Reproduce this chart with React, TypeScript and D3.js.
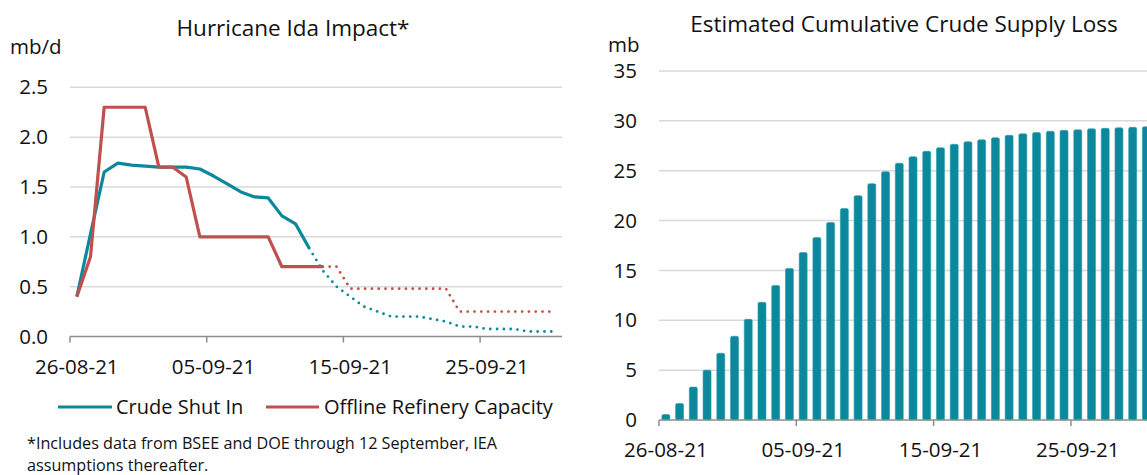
import React from "react";
import * as d3 from "d3";

const categories: string[] = d3.utcDay
  .range(new Date(Date.UTC(2021, 7, 26)), new Date(Date.UTC(2021, 9, 1)))
  .map((d) => d3.utcFormat("%d-%m-%y")(d));

const crudeShutIn = [0.4, 1.03, 1.65, 1.74, 1.72, 1.71, 1.7, 1.7, 1.7, 1.68, 1.61, 1.53, 1.45, 1.4, 1.39, 1.21, 1.13, 0.885];
const crudeShutInProj = [0.885, 0.66, 0.5, 0.4, 0.3, 0.25, 0.2, 0.2, 0.2, 0.175, 0.15, 0.1, 0.1, 0.075, 0.075, 0.075, 0.05, 0.05, 0.05];
const refinery = [0.4, 0.8, 2.3, 2.3, 2.3, 2.3, 1.7, 1.7, 1.6, 1.0, 1.0, 1.0, 1.0, 1.0, 1.0, 0.7, 0.7, 0.7, 0.7];
const refineryProj = [0.7, 0.7, 0.48, 0.48, 0.48, 0.48, 0.48, 0.48, 0.48, 0.48, 0.25, 0.25, 0.25, 0.25, 0.25, 0.25, 0.25, 0.25];
const cumulativeLoss = [0.55, 1.65, 3.3, 5.0, 6.7, 8.4, 10.1, 11.8, 13.5, 15.2, 16.8, 18.3, 19.8, 21.2, 22.5, 23.7, 24.9, 25.75, 26.4, 26.95, 27.3, 27.65, 27.9, 28.1, 28.3, 28.55, 28.7, 28.82, 28.95, 29.05, 29.1, 29.2, 29.25, 29.3, 29.35, 29.4];

const leftTicks = [0, 0.5, 1.0, 1.5, 2.0, 2.5];
const rightTicks = [0, 5, 10, 15, 20, 25, 30, 35];
const labelIdx = [0, 10, 20, 30];

const TEAL = "#0c889c";
const RED = "#c0504d";
const GRID = "#d9d9d9";
const AXIS = "#8c8c8c";
const FONT = "'Open Sans', 'Noto Sans', sans-serif";
const AX_FS = 20.5;

export default function App() {
  const xL = d3.scaleBand<number>().domain(d3.range(36)).range([70, 70 + 36 * 13.67]);
  const yL = d3.scaleLinear().domain([0, 2.5]).range([336.5, 87.3]);
  const xR = d3.scaleBand<number>().domain(d3.range(36)).range([659, 659 + 36 * 13.73]).paddingInner(0.42).paddingOuter(0.21);
  const xRc = d3.scaleBand<number>().domain(d3.range(36)).range([659, 659 + 36 * 13.73]);
  const yR = d3.scaleLinear().domain([0, 35]).range([420, 71]);

  const cx = (i: number) => (xL(i) as number) + xL.bandwidth() / 2;
  const line = (offset: number) =>
    d3.line<number>().x((_, i) => cx(i + offset)).y((v) => yL(v));

  const axisR = 659 + 36 * 13.73;

  return (
    <svg width={1147} height={475} style={{ position: "absolute", left: 0, top: 0, background: "#fff" }} fontFamily={FONT}>
      {/* Left chart */}
      <text x={293} y={36} fontSize={22.5} textAnchor="middle" fill="#111">Hurricane Ida Impact*</text>
      <text x={10} y={54} fontSize={AX_FS} fill="#111">mb/d</text>
      {leftTicks.map((t) => (
        <g key={t}>
          {t > 0 && <line x1={70} x2={562} y1={yL(t)} y2={yL(t)} stroke={GRID} strokeWidth={1.5} />}
          <text x={48} y={yL(t)} dy="0.35em" fontSize={AX_FS} textAnchor="end" fill="#111">{t.toFixed(1)}</text>
        </g>
      ))}
      <line x1={70} x2={562} y1={yL(0)} y2={yL(0)} stroke={AXIS} strokeWidth={1.5} />
      {labelIdx.map((i) => (
        <g key={i}>
          <line x1={xL(i) as number} x2={xL(i) as number} y1={yL(0)} y2={yL(0) + 6} stroke={AXIS} strokeWidth={1.5} />
          <text x={cx(i)} y={367} dy="0.35em" fontSize={AX_FS} textAnchor="middle" fill="#111">{categories[i]}</text>
        </g>
      ))}
      <path d={line(17)(crudeShutInProj) as string} fill="none" stroke={TEAL} strokeWidth={2.8} strokeDasharray="0 6.8" strokeLinecap="round" />
      <path d={line(18)(refineryProj) as string} fill="none" stroke={RED} strokeWidth={2.8} strokeDasharray="0 6.8" strokeLinecap="round" />
      <path d={line(0)(crudeShutIn) as string} fill="none" stroke={TEAL} strokeWidth={3.2} strokeLinejoin="round" />
      <path d={line(0)(refinery) as string} fill="none" stroke={RED} strokeWidth={3.2} strokeLinejoin="round" />

      {/* Legend */}
      <line x1={58} x2={112} y1={407} y2={407} stroke={TEAL} strokeWidth={3.2} />
      <text x={116} y={407} dy="0.35em" fontSize={20} fill="#111">Crude Shut In</text>
      <line x1={266} x2={319} y1={407} y2={407} stroke={RED} strokeWidth={3.2} />
      <text x={324} y={407} dy="0.35em" fontSize={20} fill="#111">Offline Refinery Capacity</text>

      <text x={27} y={449} fontSize={16.2} fill="#111">*Includes data from BSEE and DOE through 12 September, IEA</text>
      <text x={27} y={471} fontSize={16.2} fill="#111">assumptions thereafter.</text>

      {/* Right chart */}
      <text x={904} y={32} fontSize={22.5} textAnchor="middle" fill="#111">Estimated Cumulative Crude Supply Loss</text>
      <text x={608} y={52} fontSize={AX_FS} fill="#111">mb</text>
      {rightTicks.map((t) => (
        <g key={t}>
          {t > 0 && <line x1={659} x2={axisR} y1={yR(t)} y2={yR(t)} stroke={GRID} strokeWidth={1.5} />}
          <text x={637} y={yR(t)} dy="0.35em" fontSize={AX_FS} textAnchor="end" fill="#111">{t}</text>
        </g>
      ))}
      {cumulativeLoss.map((v, i) => (
        <rect key={i} x={xR(i)} y={yR(v)} width={xR.bandwidth()} height={yR(0) - yR(v)} fill={TEAL} stroke="#2a9aac" strokeWidth={0.6} rx={1.5} />
      ))}
      <line x1={659} x2={axisR} y1={yR(0)} y2={yR(0)} stroke={AXIS} strokeWidth={1.5} />
      {labelIdx.map((i) => (
        <g key={i}>
          <line x1={xRc(i) as number} x2={xRc(i) as number} y1={yR(0)} y2={yR(0) + 6} stroke={AXIS} strokeWidth={1.5} />
          <text x={(xRc(i) as number) + xRc.bandwidth() / 2} y={450} dy="0.35em" fontSize={AX_FS} textAnchor="middle" fill="#111">{categories[i]}</text>
        </g>
      ))}
    </svg>
  );
}
